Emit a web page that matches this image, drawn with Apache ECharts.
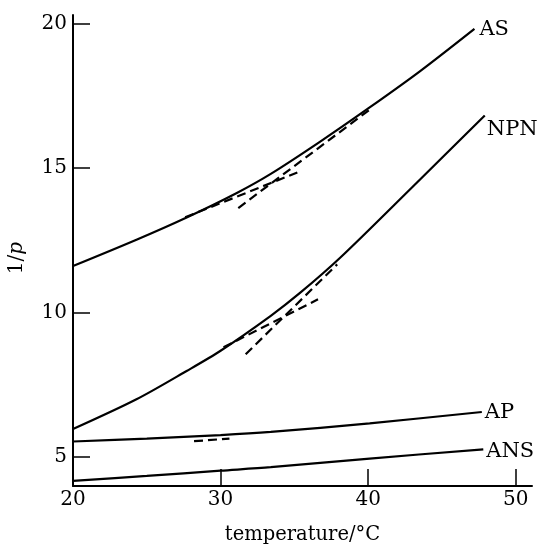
<!DOCTYPE html>
<html>
<head>
<meta charset="utf-8">
<script src="https://cdn.jsdelivr.net/npm/echarts@6/dist/echarts.min.js"></script>
<style>
  html, body { margin: 0; padding: 0; background: #fff; }
  #chart { width: 539px; height: 544px; }
</style>
</head>
<body>
<div id="chart"></div>
<script>
// tick labels
const xTicks = [20, 30, 40, 50];
const yTicks = [5, 10, 15, 20];

// solid curves (temperature / 1/p)
const asTemp = [20, 24.3, 27.7, 31.1, 33.4, 36.7, 40.1, 43.5, 47.2];
const asVals = [11.61, 12.52, 13.29, 14.14, 14.8, 15.9, 17.1, 18.35, 19.82];
const npnTemp = [20, 24.3, 27.7, 30, 33.4, 35.4, 38.1, 43, 47.9];
const npnVals = [5.97, 7.0, 7.98, 8.68, 9.89, 10.69, 11.9, 14.35, 16.82];
const apTemp = [20, 25, 30, 33.4, 40.1, 47.7];
const apVals = [5.54, 5.64, 5.76, 5.87, 6.17, 6.56];
const ansTemp = [20, 25, 30, 33.4, 40.1, 47.8];
const ansVals = [4.18, 4.35, 4.53, 4.65, 4.95, 5.27];

// dashed tangents
const asLowTemp = [27.6, 35.2];
const asLowVals = [13.3, 14.85];
const asHighTemp = [31.2, 40.3];
const asHighVals = [13.62, 17.1];
const npnLowTemp = [30.2, 36.6];
const npnLowVals = [8.8, 10.46];
const npnHighTemp = [31.7, 37.9];
const npnHighVals = [8.56, 11.67];
const apDashTemp = [28.2, 30.6];
const apDashVals = [5.55, 5.64];

const serif = "DejaVu Serif";
const chart = echarts.init(document.getElementById("chart"));

const pairs = (xs, ys) => xs.map((x, i) => [x, ys[i]]);

const solid = (name, xs, ys, dist, dy) => ({
  name: name,
  type: "line",
  data: pairs(xs, ys),
  smooth: 0.3,
  symbol: "none",
  lineStyle: { color: "#000", width: 2.2 },
  endLabel: {
    show: true,
    formatter: "{a}",
    color: "#000",
    fontFamily: serif,
    fontSize: 21,
    distance: dist,
    offset: [0, dy],
  },
});

const dashed = (xs, ys) => ({
  type: "line",
  data: pairs(xs, ys),
  symbol: "none",
  lineStyle: { color: "#000", width: 2.2, type: [9, 5] },
});

const axisCommon = {
  type: "value",
  splitLine: { show: false },
  axisLine: { show: true, lineStyle: { color: "#000", width: 2 } },
  axisTick: { show: true, inside: true, length: 17, lineStyle: { color: "#000", width: 1.5 } },
};

const option = {
  animation: false,
  backgroundColor: "#fff",
  grid: {
    left: 73,
    right: 7,
    top: 15,
    bottom: 58,
    containLabel: false,
    outerBoundsMode: "none",
  },
  xAxis: {
    ...axisCommon,
    min: 20,
    max: 51.1,
    axisTick: { ...axisCommon.axisTick, customValues: xTicks },
    axisLabel: {
      customValues: xTicks,
      color: "#000",
      fontFamily: serif,
      fontSize: 20,
      margin: 4,
    },
    name: "temperature/°C",
    nameLocation: "middle",
    nameGap: 39,
    nameTextStyle: { color: "#000", fontFamily: serif, fontSize: 19.5 },
  },
  yAxis: {
    ...axisCommon,
    min: 4,
    max: 20.3,
    axisTick: { ...axisCommon.axisTick, customValues: yTicks },
    axisLabel: {
      customValues: yTicks,
      color: "#000",
      fontFamily: serif,
      fontSize: 20,
      margin: 6,
    },
  },
  graphic: [
    {
      type: "text",
      x: 17,
      y: 258,
      rotation: Math.PI / 2,
      style: {
        text: "{n|1/}{i|p}",
        align: "center",
        verticalAlign: "middle",
        rich: {
          n: { fontFamily: serif, fontSize: 20, fill: "#000" },
          i: { fontFamily: serif, fontSize: 20, fontStyle: "italic", fill: "#000" },
        },
      },
    },
  ],
  series: [
    solid("AS", asTemp, asVals, 5, 1),
    solid("NPN", npnTemp, npnVals, 2, 14),
    solid("AP", apTemp, apVals, 3, 1),
    solid("ANS", ansTemp, ansVals, 3, 2),
    dashed(asLowTemp, asLowVals),
    dashed(asHighTemp, asHighVals),
    dashed(npnLowTemp, npnLowVals),
    dashed(npnHighTemp, npnHighVals),
    dashed(apDashTemp, apDashVals),
  ],
};

chart.setOption(option);
window.addEventListener("resize", () => chart.resize());
</script>
</body>
</html>
